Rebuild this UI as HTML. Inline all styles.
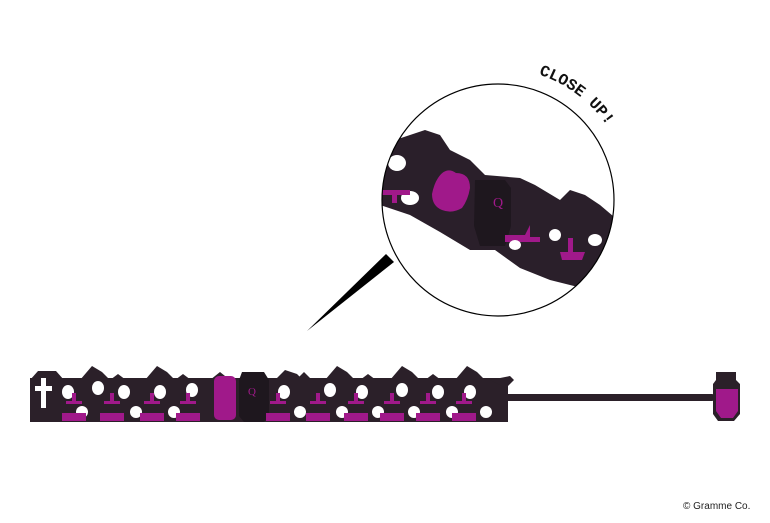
<!DOCTYPE html>
<html><head><style>html,body{margin:0;padding:0;background:#fff}svg{display:block}</style></head>
<body>
<svg width="770" height="523" viewBox="0 0 770 523" xmlns="http://www.w3.org/2000/svg">
<defs>
<clipPath id="cc"><circle cx="498" cy="200" r="116"/></clipPath>
<path id="arc" d="M538.8,74.5 A132,132 0 0 1 622,155" fill="none"/>
</defs>
<polygon points="307,331 386,254 394,262" fill="#000"/>
<g clip-path="url(#cc)">
<polygon points="380,150 395,140 410,135 425,130 440,135 450,150 470,160 485,175 520,178 535,185 560,200 570,190 585,195 600,205 620,222 620,250 590,290 550,280 520,268 495,250 470,250 440,232 410,215 380,205" fill="#2a1f2a"/>
<ellipse cx="397" cy="163" rx="9" ry="8" fill="#fff"/>
<ellipse cx="410" cy="198" rx="9" ry="7" fill="#fff"/>
<path d="M380,190 h30 v5 h-13 v8 h-5 v-8 h-12z" fill="#a0198a"/>
<path d="M438,178 q8,-12 18,-5 q14,0 14,15 q-2,12 -8,20 q-10,6 -20,2 q-10,-4 -10,-16 q2,-10 6,-16z" fill="#a0198a"/>
<path d="M475,180 h30 l6,8 v38 l-6,20 h-25 l-6,-20z" fill="#1e171e"/>
<text x="493" y="207" font-family="Liberation Serif,serif" font-size="14" fill="#a0198a">Q</text>
<path d="M505,235 h20 l5,-10 v12 h10 v5 h-35z" fill="#a0198a"/>
<ellipse cx="515" cy="245" rx="6" ry="5" fill="#fff"/>
<path d="M560,252 h25 l-3,8 h-20z" fill="#a0198a"/>
<rect x="568" y="238" width="5" height="20" fill="#a0198a"/>
<ellipse cx="555" cy="235" rx="6" ry="6" fill="#fff"/>
<ellipse cx="595" cy="240" rx="7" ry="6" fill="#fff"/>
</g>
<circle cx="498" cy="200" r="116" fill="none" stroke="#000" stroke-width="1.2"/>
<text font-family="Liberation Mono,monospace" font-weight="bold" font-size="16" fill="#111"><textPath href="#arc">CLOSE UP!</textPath></text>
<g fill="#2b2029">
<rect x="30" y="378" width="478" height="44"/>
<path d="M30,380 l8,-9 h18 l8,9z"/>
<path d="M80,380 l12,-14 l10,6 l8,8z M145,380 l12,-14 l10,6 l8,8z M210,380 l10,-8 l10,8z M275,380 l10,-10 l12,4 l6,6z M325,380 l12,-14 l10,6 l8,8z M390,380 l12,-14 l10,6 l8,8z M455,380 l12,-14 l10,6 l8,8z"/>
<path d="M490,380 l20,-4 l4,4 l-8,8z"/>
<path d="M110,380 l8,-6 l8,6z M175,380 l8,-6 l8,6z M296,380 l8,-8 l8,8z M360,380 l8,-6 l8,6z M425,380 l8,-6 l8,6z"/>
</g>
<rect x="500" y="394" width="215" height="7" rx="3" fill="#2b2029"/>
<path d="M716,372 h20 v8 l4,4 v30 l-6,7 h-16 l-5,-7 v-30 l3,-4z" fill="#2b2029"/>
<path d="M716,389 h22 v22 l-5,7 h-12 l-5,-7z" fill="#a0198a"/>
<rect x="41" y="378" width="5" height="30" fill="#fff"/><rect x="35" y="386" width="17" height="5" fill="#fff"/>
<rect x="214" y="376" width="22" height="44" rx="5" fill="#a0198a"/>
<path d="M242,372 h22 l5,8 v36 l-5,6 h-20 l-5,-6 v-36z" fill="#1e171e"/>
<text x="248" y="395" font-family="Liberation Serif,serif" font-size="11" fill="#a0198a">Q</text>
<g fill="#fff">
<ellipse cx="68" cy="392" rx="6" ry="7"/><ellipse cx="98" cy="388" rx="6" ry="7"/><ellipse cx="124" cy="392" rx="6" ry="7"/><ellipse cx="160" cy="392" rx="6" ry="7"/><ellipse cx="192" cy="390" rx="6" ry="7"/>
<ellipse cx="284" cy="392" rx="6" ry="7"/><ellipse cx="330" cy="390" rx="6" ry="7"/><ellipse cx="362" cy="392" rx="6" ry="7"/><ellipse cx="402" cy="390" rx="6" ry="7"/><ellipse cx="438" cy="392" rx="6" ry="7"/><ellipse cx="470" cy="392" rx="6" ry="7"/>
<ellipse cx="82" cy="412" rx="6" ry="6"/><ellipse cx="136" cy="412" rx="6" ry="6"/><ellipse cx="174" cy="412" rx="6" ry="6"/><ellipse cx="300" cy="412" rx="6" ry="6"/><ellipse cx="342" cy="412" rx="6" ry="6"/><ellipse cx="378" cy="412" rx="6" ry="6"/><ellipse cx="414" cy="412" rx="6" ry="6"/><ellipse cx="452" cy="412" rx="6" ry="6"/><ellipse cx="486" cy="412" rx="6" ry="6"/>
</g>
<g fill="#a0198a">
<path d="M66,404 h16 v-3 h-6 v-8 h-4 v8 h-6z M62,413 h24 v8 h-24z"/>
<path d="M104,404 h16 v-3 h-6 v-8 h-4 v8 h-6z M100,413 h24 v8 h-24z"/>
<path d="M144,404 h16 v-3 h-6 v-8 h-4 v8 h-6z M140,413 h24 v8 h-24z"/>
<path d="M180,404 h16 v-3 h-6 v-8 h-4 v8 h-6z M176,413 h24 v8 h-24z"/>
<path d="M270,404 h16 v-3 h-6 v-8 h-4 v8 h-6z M266,413 h24 v8 h-24z"/>
<path d="M310,404 h16 v-3 h-6 v-8 h-4 v8 h-6z M306,413 h24 v8 h-24z"/>
<path d="M348,404 h16 v-3 h-6 v-8 h-4 v8 h-6z M344,413 h24 v8 h-24z"/>
<path d="M384,404 h16 v-3 h-6 v-8 h-4 v8 h-6z M380,413 h24 v8 h-24z"/>
<path d="M420,404 h16 v-3 h-6 v-8 h-4 v8 h-6z M416,413 h24 v8 h-24z"/>
<path d="M456,404 h16 v-3 h-6 v-8 h-4 v8 h-6z M452,413 h24 v8 h-24z"/>
</g>
<text x="683" y="509" font-family="Liberation Sans,sans-serif" font-size="10" fill="#222">© Gramme Co.</text>
</svg>
</body></html>
